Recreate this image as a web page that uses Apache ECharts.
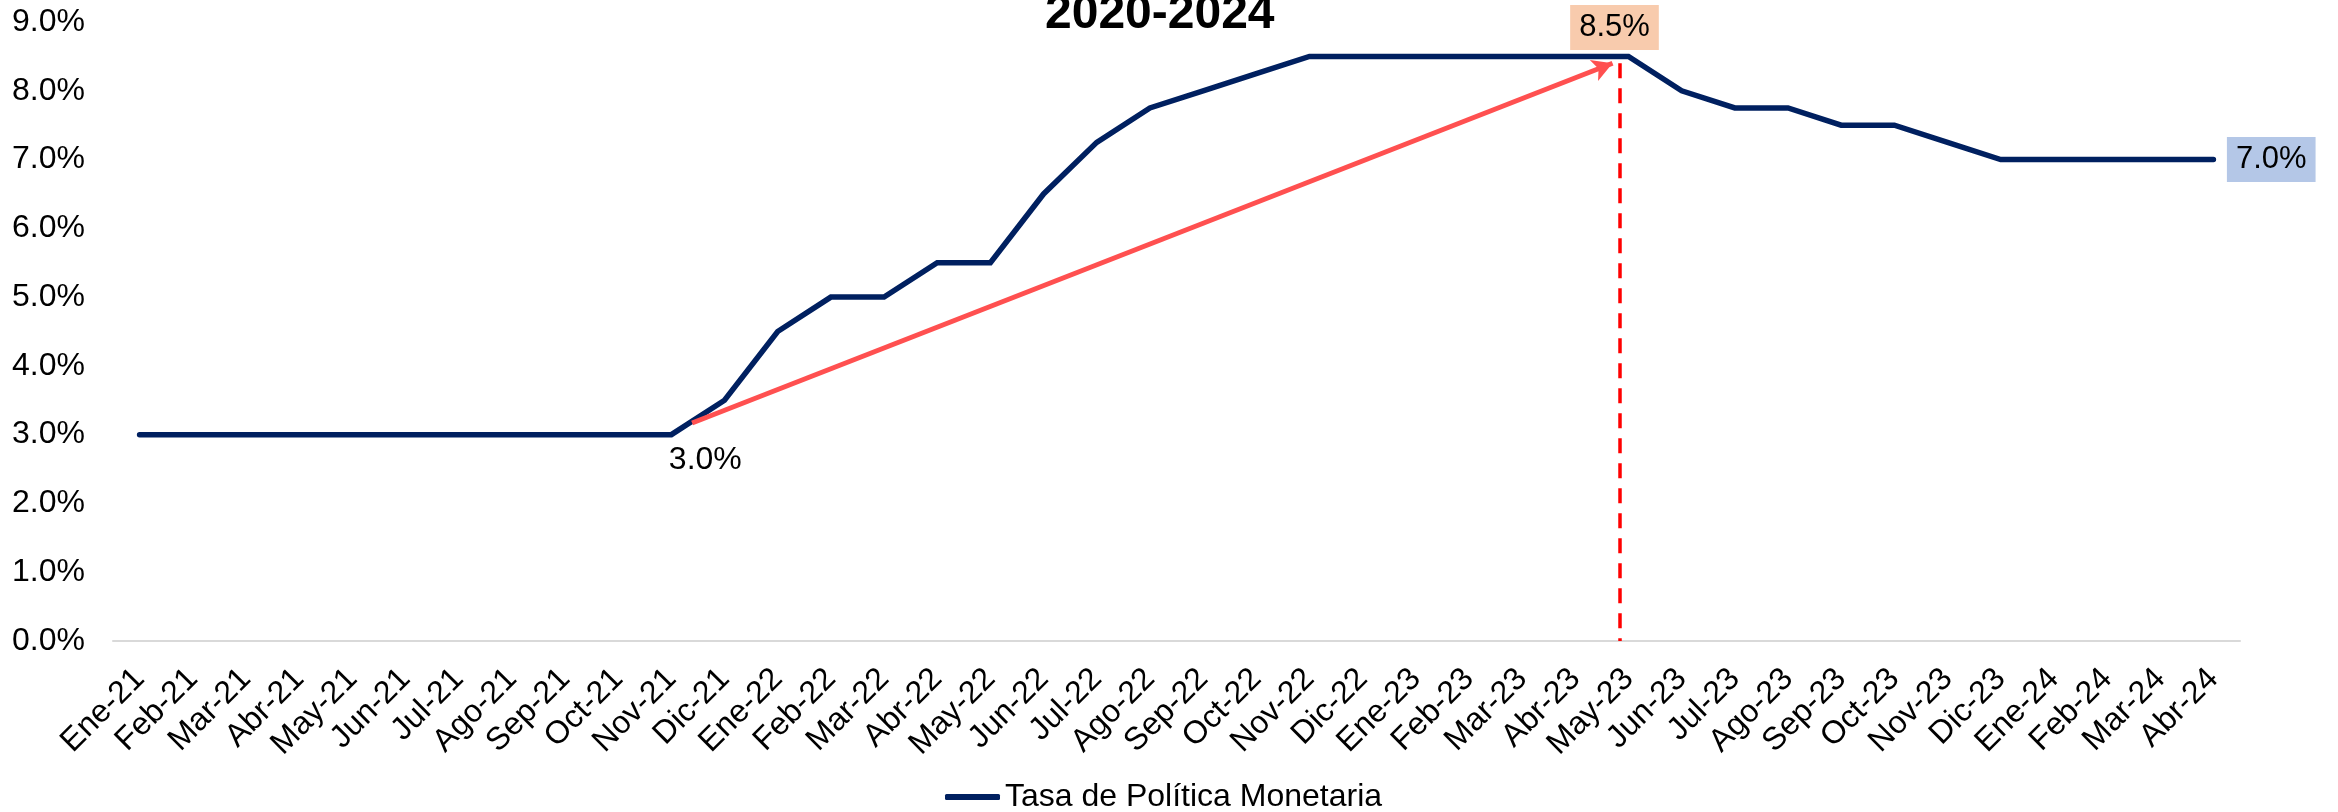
<!DOCTYPE html>
<html>
<head>
<meta charset="utf-8">
<script src="https://cdn.jsdelivr.net/npm/echarts@6/dist/echarts.min.js"></script>
<style>
html,body{margin:0;padding:0;background:#fff;}
#chart{width:2338px;height:812px;}
</style>
</head>
<body>
<div id="chart"></div>
<script>
const categories = ['Ene-21','Feb-21','Mar-21','Abr-21','May-21','Jun-21','Jul-21','Ago-21','Sep-21','Oct-21','Nov-21','Dic-21',
  'Ene-22','Feb-22','Mar-22','Abr-22','May-22','Jun-22','Jul-22','Ago-22','Sep-22','Oct-22','Nov-22','Dic-22',
  'Ene-23','Feb-23','Mar-23','Abr-23','May-23','Jun-23','Jul-23','Ago-23','Sep-23','Oct-23','Nov-23','Dic-23',
  'Ene-24','Feb-24','Mar-24','Abr-24'];
const tpmValues = [3.0,3.0,3.0,3.0,3.0,3.0,3.0,3.0,3.0,3.0,3.0,3.5,
  4.5,5.0,5.0,5.5,5.5,6.5,7.25,7.75,8.0,8.25,8.5,8.5,
  8.5,8.5,8.5,8.5,8.5,8.0,7.75,7.75,7.5,7.5,7.25,7.0,
  7.0,7.0,7.0,7.0];
const seriesName = 'Tasa de Política Monetaria';
const titleText = '2020-2024';
// annotations (x in category-index units)
const arrowStart = [10.39, 3.17];
const arrowEnd = [27.7, 8.4];
const dashTop = [27.84, 8.4];
const dashBottom = [27.84, 0];
const labelMin = {index: 10, text: '3.0%'};
const labelMax = {index: 28, text: '8.5%'};
const labelLast = {index: 39, text: '7.0%'};

const FONT = "'Liberation Sans', Arial, sans-serif";

const seriesData = tpmValues.map((v, i) => {
  const item = {value: v, symbol: 'none'};
  if (i === labelMin.index) {
    item.symbol = 'circle'; item.symbolSize = 1;
    item.label = {show: true, position: 'bottom', offset: [34, 4], formatter: labelMin.text,
      fontSize: 32, color: '#000', fontFamily: FONT};
  } else if (i === labelMax.index) {
    item.symbol = 'circle'; item.symbolSize = 1;
    item.label = {show: true, position: 'top', distance: 6, offset: [-14, 0], formatter: labelMax.text,
      fontSize: 31, color: '#000', fontFamily: FONT, backgroundColor: '#f8cbad', padding: [7, 9, 7, 9]};
  } else if (i === labelLast.index) {
    item.symbol = 'circle'; item.symbolSize = 1;
    item.label = {show: true, position: 'right', distance: 13, formatter: labelLast.text,
      fontSize: 31, color: '#000', fontFamily: FONT, backgroundColor: '#b4c7e7', padding: [7, 9, 7, 9]};
  }
  return item;
});

const chart = echarts.init(document.getElementById('chart'));
chart.setOption({
  animation: false,
  backgroundColor: '#fff',
  title: {
    text: titleText, left: 1045, top: -9, padding: 0,
    textStyle: {fontSize: 48, fontWeight: 'bold', color: '#000', fontFamily: FONT}
  },
  legend: {
    data: [seriesName], left: 945, top: 781, padding: 0,
    icon: 'roundRect', itemWidth: 55, itemHeight: 6,
    textStyle: {fontSize: 32, color: '#000', fontFamily: FONT}
  },
  grid: {left: 113, right: 98, top: 22, bottom: 171, containLabel: false},
  xAxis: [{
    type: 'category', data: categories, boundaryGap: true,
    axisTick: {show: false},
    axisLine: {show: true, lineStyle: {color: '#d9d9d9', width: 2}},
    axisLabel: {interval: 0, rotate: 45, margin: 33, fontSize: 32, color: '#000', fontFamily: FONT},
    splitLine: {show: false}
  }, {
    type: 'value', min: -0.5, max: categories.length - 0.5, show: false
  }],
  yAxis: {
    type: 'value', min: 0, max: 9, interval: 1,
    axisLine: {show: false}, axisTick: {show: false}, splitLine: {show: false},
    axisLabel: {margin: 28, fontSize: 32, color: '#000', fontFamily: FONT,
      formatter: v => v.toFixed(1) + '%'}
  },
  series: [{
    name: seriesName, type: 'line', data: seriesData,
    showAllSymbol: true,
    itemStyle: {color: '#002060'},
    lineStyle: {color: '#002060', width: 5.5, cap: 'round', join: 'miter'},
    emphasis: {disabled: true},
    z: 2
  }, {
    name: 'annot', type: 'line', xAxisIndex: 1, data: [],
    silent: true, z: 3,
    markLine: {
      silent: true, animation: false,
      label: {show: false},
      emphasis: {disabled: true},
      data: [
        [{coord: arrowStart, symbol: 'none', lineStyle: {color: '#ff5050', width: 5, type: 'solid'}},
         {coord: arrowEnd, symbol: 'arrow', symbolSize: [17, 20]}],
        [{coord: dashTop, symbol: 'none', lineStyle: {color: '#ff0000', width: 3.5, type: [15, 10]}},
         {coord: dashBottom, symbol: 'none'}]
      ]
    }
  }]
});
</script>
</body>
</html>
